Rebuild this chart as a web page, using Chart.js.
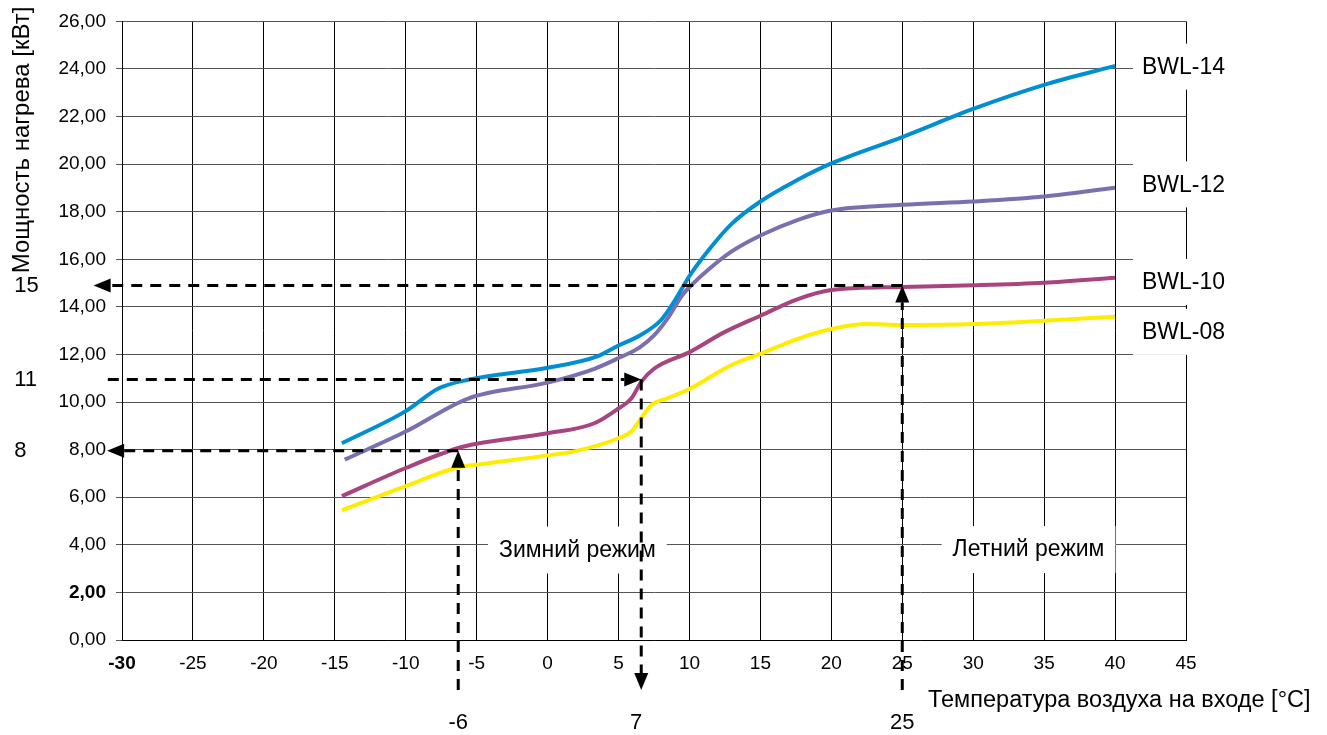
<!DOCTYPE html>
<html>
<head>
<meta charset="utf-8">
<script src="https://cdn.jsdelivr.net/npm/chart.js@4.4.1/dist/chart.umd.min.js"></script>
<style>
  body { margin: 0; background: #fff; }
  canvas { display: block; }
</style>
</head>
<body>
<canvas id="heat_chart" width="1327" height="735"></canvas>
<script>
// values
const seriesNames = ["BWL-14", "BWL-12", "BWL-10", "BWL-08"];
const seriesColors = ["rgb(0, 143, 210)", "rgb(124, 111, 176)", "rgb(168, 69, 126)", "rgb(255, 236, 0)"];

const bwl14X = [-14.5, -10, -7.7, -5.6, 0, 3.5, 5, 6.5, 8, 9, 10, 11.3, 12.9, 15, 17.6, 20, 25, 30, 35, 40];
const bwl14Y = [8.27, 9.62, 10.57, 10.94, 11.44, 11.92, 12.38, 12.8, 13.45, 14.3, 15.3, 16.35, 17.45, 18.43, 19.33, 20.03, 21.14, 22.32, 23.33, 24.13];

const bwl12X = [-14.3, -10, -5.6, 0, 3.3, 5, 6.5, 7.5, 8.5, 9.5, 10.2, 11.3, 12.9, 15, 17.6, 20, 25, 30, 35, 40];
const bwl12Y = [7.58, 8.76, 10.15, 10.82, 11.4, 11.85, 12.3, 12.8, 13.55, 14.5, 14.95, 15.55, 16.3, 17.0, 17.65, 18.05, 18.29, 18.43, 18.64, 19.01];

const bwl10X = [-14.5, -10, -6.3, -5, 0, 3.3, 5, 5.9, 6.6, 7.5, 10, 12.5, 15, 17.6, 20, 25, 30, 35, 40];
const bwl10Y = [6.05, 7.23, 8.07, 8.25, 8.69, 9.11, 9.73, 10.15, 10.85, 11.4, 12.1, 12.95, 13.63, 14.32, 14.71, 14.84, 14.91, 15.02, 15.23];

const bwl08X = [-14.5, -10, -6.3, -5, 0, 1.9, 5, 5.9, 6.6, 7.3, 8.5, 10, 12.9, 15, 17.6, 20, 22.5, 25, 30, 35, 40];
const bwl08Y = [5.45, 6.47, 7.26, 7.37, 7.76, 7.93, 8.48, 8.76, 9.32, 9.87, 10.17, 10.55, 11.54, 12.03, 12.65, 13.07, 13.28, 13.24, 13.28, 13.42, 13.59];

const xTicksMin = -30, xTicksMax = 45, xStep = 5;
const yTicksMin = 0, yTicksMax = 26, yStep = 2;

// series labels on the right
const seriesLabelX = 41.9;
const seriesLabelY = [24.1, 19.15, 15.05, 12.95];

// mode labels
const modeNames = ["Зимний режим", "Летний режим"];
const modeX = [2.1, 33.9];
const modeY = [3.76, 3.78];

// dashed guide lines
const guideX = [-6.3, 6.6, 25];
const guideY = [7.95, 10.95, 14.9];
const guideLeft = [-31.05, -31.0, -32.0];
const guideBottom = -2.1;
const guideBottomText = ["-6", "7", "25"];
const guideLeftText = ["8", "11", "15"];
const guideTextY = -3.5;
const guideLeftTextX = -37.6;

const yTitle = "Мощность нагрева [кВт]";
const xTitle = "Температура воздуха на входе [°C]";

Chart.defaults.font.family = "'Liberation Sans', Arial, sans-serif";
Chart.defaults.color = "#000";

function toPoints(xs, ys){
    return xs.map((x, i) => ({x: x, y: ys[i]}));
}

const allX = [bwl14X, bwl12X, bwl10X, bwl08X];
const allY = [bwl14Y, bwl12Y, bwl10Y, bwl08Y];

function dashedLine(ctx, x1, y1, x2, y2){
    ctx.beginPath();
    ctx.moveTo(x1, y1);
    ctx.lineTo(x2, y2);
    ctx.stroke();
}

function arrowHead(ctx, x, y, angle){
    const len = 17, half = 7;
    ctx.save();
    ctx.setLineDash([]);
    ctx.translate(x, y);
    ctx.rotate(angle);
    ctx.beginPath();
    ctx.moveTo(0, 0);
    ctx.lineTo(-len, -half);
    ctx.lineTo(-len, half);
    ctx.closePath();
    ctx.fill();
    ctx.restore();
}

const labelsPlugin = {
    id: "labels",
    beforeDatasetsDraw(chart){
        const ctx = chart.ctx;
        const xs = chart.scales.x, ys = chart.scales.y;
        ctx.save();
        // series names with white boxes
        ctx.font = "23px 'Liberation Sans', Arial, sans-serif";
        ctx.textBaseline = "middle";
        ctx.textAlign = "left";
        seriesNames.forEach((name, i) => {
            const px = xs.getPixelForValue(seriesLabelX);
            const py = ys.getPixelForValue(seriesLabelY[i]);
            ctx.fillStyle = "#fff";
            ctx.fillRect(px - 9, py - 23, 110, 46);
            ctx.fillStyle = "#000";
            ctx.fillText(name, px, py + 1);
        });
        // winter / summer mode
        ctx.font = "23px 'Liberation Sans', Arial, sans-serif";
        ctx.textAlign = "center";
        modeNames.forEach((name, i) => {
            const px = xs.getPixelForValue(modeX[i]);
            const py = ys.getPixelForValue(modeY[i]);
            const w = ctx.measureText(name).width;
            ctx.fillStyle = "#fff";
            ctx.fillRect(px - w / 2 - 11, py - 24, w + 22, 47);
            ctx.fillStyle = "#000";
            ctx.fillText(name, px, py);
        });
        ctx.restore();
    },
    afterDatasetsDraw(chart){
        const ctx = chart.ctx;
        const xs = chart.scales.x, ys = chart.scales.y;
        ctx.save();
        ctx.strokeStyle = "#000";
        ctx.fillStyle = "#000";
        ctx.lineWidth = 3;
        ctx.setLineDash([11, 8]);

        const bottom = ys.getPixelForValue(guideBottom);
        guideX.forEach((gx, i) => {
            const px = xs.getPixelForValue(gx);
            const py = ys.getPixelForValue(guideY[i]);
            const left = xs.getPixelForValue(guideLeft[i]);
            if (i === 1) {
                // across to the curve, then down to the axis
                dashedLine(ctx, left, py, px - 17, py);
                arrowHead(ctx, px, py, 0);
                dashedLine(ctx, px, py, px, bottom - 17);
                arrowHead(ctx, px, bottom, Math.PI / 2);
            } else {
                // up to the curve, then across to the axis
                dashedLine(ctx, px, bottom, px, py + 17);
                arrowHead(ctx, px, py, -Math.PI / 2);
                dashedLine(ctx, px, py, left + 17, py);
                arrowHead(ctx, left, py, Math.PI);
            }
        });

        ctx.font = "22px 'Liberation Sans', Arial, sans-serif";
        ctx.textBaseline = "middle";
        ctx.textAlign = "center";
        guideBottomText.forEach((t, i) => {
            ctx.fillText(t, xs.getPixelForValue(guideX[i]) - (i === 1 ? 5 : 0), ys.getPixelForValue(guideTextY));
        });
        ctx.textAlign = "left";
        guideLeftText.forEach((t, i) => {
            ctx.fillText(t, xs.getPixelForValue(guideLeftTextX), ys.getPixelForValue(guideY[i]));
        });

        // axis titles
        ctx.font = "23.5px 'Liberation Sans', Arial, sans-serif";
        ctx.textAlign = "left";
        ctx.fillText(xTitle, 928, 701);

        ctx.font = "24px 'Liberation Sans', Arial, sans-serif";
        ctx.translate(22, 140);
        ctx.rotate(-Math.PI / 2);
        ctx.textAlign = "center";
        ctx.fillText(yTitle, 0, 0);
        ctx.restore();
    }
};

const chart_ctx = document.getElementById("heat_chart");
var heat_chart = new Chart(chart_ctx, {
    type: "line",
    data: {
        datasets: seriesNames.map((name, i) => ({
            label: name,
            data: toPoints(allX[i], allY[i]),
            borderColor: seriesColors[i],
            borderWidth: 4,
            pointRadius: 0,
            fill: false,
            cubicInterpolationMode: "monotone",
        })),
    },
    options: {
        responsive: false,
        animation: false,
        devicePixelRatio: 1,
        layout: { padding: { top: 17, right: 141, left: 0, bottom: 0 } },
        plugins: {
            legend: { display: false },
            tooltip: { enabled: false }
        },
        scales: {
            x: {
                type: "linear",
                min: xTicksMin,
                max: xTicksMax,
                ticks: {
                    stepSize: xStep,
                    padding: 12,
                    color: "#000",
                    font: (c) => ({ size: 19, weight: c.tick && c.tick.value === -30 ? "bold" : "normal" })
                },
                grid: { color: "#000", drawTicks: false },
                border: { color: "#000" },
                afterFit(scale){ scale.height = 95; }
            },
            y: {
                min: yTicksMin,
                max: yTicksMax,
                ticks: {
                    stepSize: yStep,
                    padding: 10,
                    color: "#000",
                    callback: (v) => v.toFixed(2).replace(".", ","),
                    font: (c) => ({ size: 19, weight: c.tick && c.tick.value === 2 ? "bold" : "normal" })
                },
                grid: { color: "#555", tickLength: 6 },
                border: { color: "#000" },
                afterFit(scale){ scale.width = 122; }
            }
        }
    },
    plugins: [labelsPlugin]
});
</script>
</body>
</html>
